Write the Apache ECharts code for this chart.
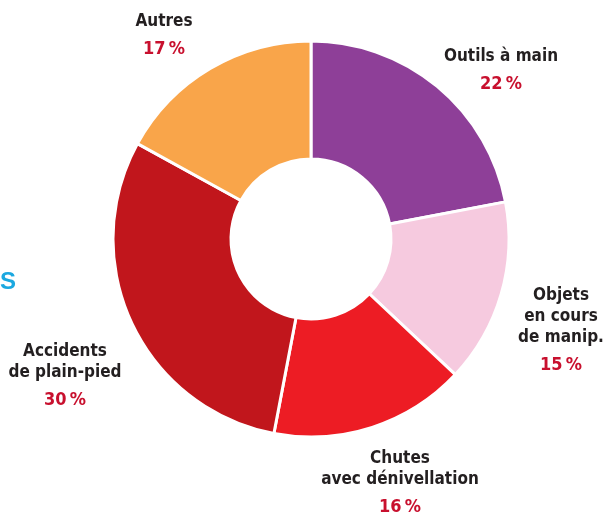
<!DOCTYPE html>
<html><head><meta charset="utf-8">
<script src="https://cdn.jsdelivr.net/npm/echarts@6/dist/echarts.min.js"></script>
<style>html,body{margin:0;padding:0;background:#fff}#c{width:607px;height:515px}</style>
</head><body><div id="c"></div>
<script>
const categories = ['Outils à main', 'Objets\nen cours\nde manip.', 'Chutes\navec dénivellation', 'Accidents\nde plain-pied', 'Autres'];
const values = [22, 15, 16, 30, 17];
const colors = ['#8E3F98', '#F6CADF', '#ED1C24', '#C1161C', '#F9A54A'];
// label anchor: [center x, center y of first name line]
const labelPos = [[501, 57], [561, 296], [400, 459], [65, 352], [164, 22]];

const chart = echarts.init(document.getElementById('c'));
const FONT = '"Liberation Sans Narrow", "DejaVu Sans Condensed", "Liberation Sans", sans-serif';
const graphics = [{
  type: 'text', left: 0, top: 270,
  style: { text: 'S', fill: '#1BA8E0', font: 'bold 24px "Liberation Sans", sans-serif' }
}];
categories.forEach((c, i) => {
  const lines = c.split('\n').length;
  const [x, y] = labelPos[i];
  graphics.push({
    type: 'text', x: x, y: y - 10.5,
    style: { text: c, fill: '#231F20', font: 'bold 17px ' + FONT, lineHeight: 21, align: 'center', verticalAlign: 'top' }
  });
  graphics.push({
    type: 'text', x: x, y: y + 21 * (lines - 1) + 27,
    style: { text: values[i] + '\u202F%', fill: '#C8102E', font: 'bold 18px ' + FONT, align: 'center', verticalAlign: 'middle' }
  });
});
chart.setOption({
  animation: false,
  graphic: graphics,
  series: [{
    type: 'pie',
    center: [311, 239],
    radius: [80, 198],
    startAngle: 90,
    clockwise: true,
    itemStyle: { borderColor: '#fff', borderWidth: 3 },
    label: { show: false },
    labelLine: { show: false },
    data: categories.map((c, i) => ({ name: c, value: values[i], itemStyle: { color: colors[i] } }))
  }]
});
</script></body></html>
